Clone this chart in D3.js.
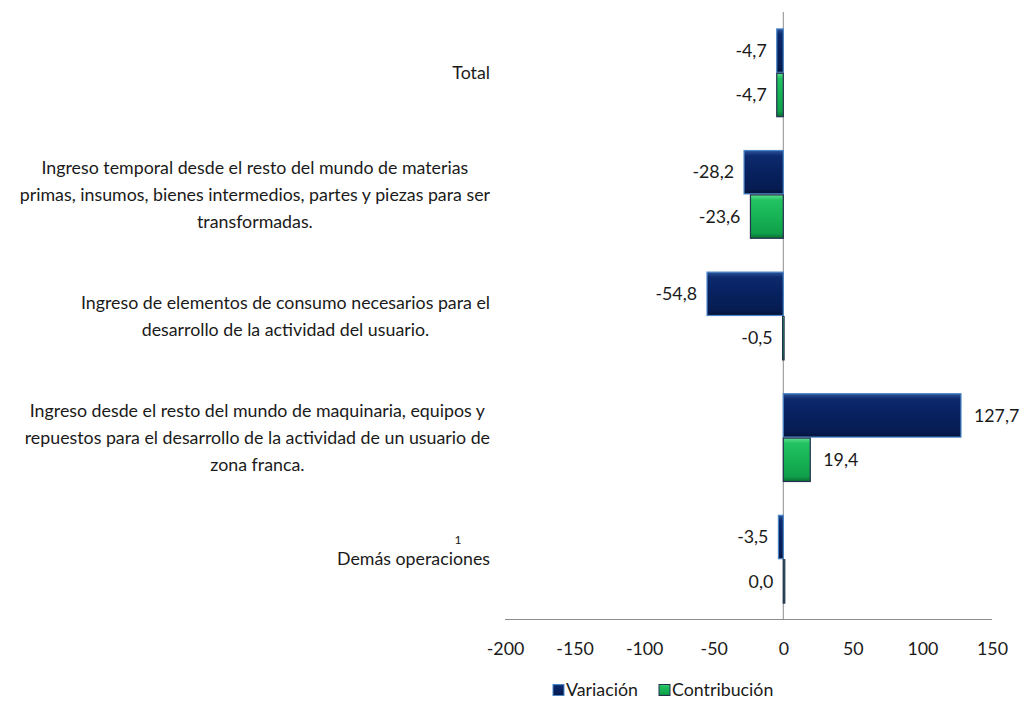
<!DOCTYPE html>
<html>
<head>
<meta charset="utf-8">
<script src="https://cdn.jsdelivr.net/npm/d3@7"></script>
<style>
  html, body { margin: 0; padding: 0; background: #fff; }
  svg { display: block; }
  text { font-family: Lato, "Open Sans", sans-serif; fill: #1a1a1a; }
</style>
</head>
<body>
<svg id="chart" width="1026" height="702"></svg>
<script>
// ---- data ----
const categories = [
  "Total",
  "Ingreso temporal desde el resto del mundo de materias primas, insumos, bienes intermedios, partes y piezas para ser transformadas.",
  "Ingreso de elementos de consumo necesarios para el desarrollo de la actividad del usuario.",
  "Ingreso desde el resto del mundo de maquinaria, equipos y repuestos para el desarrollo de la actividad de un usuario de zona franca.",
  "Demás operaciones"
];
const categoryLines = [
  ["Total"],
  ["Ingreso temporal desde el resto del mundo de materias",
   "primas, insumos, bienes intermedios, partes y piezas para ser",
   "transformadas."],
  ["Ingreso de elementos de consumo necesarios para el",
   "desarrollo de la actividad del usuario."],
  ["Ingreso desde el resto del mundo de maquinaria, equipos y",
   "repuestos para el desarrollo de la actividad de un usuario de",
   "zona franca."],
  ["Demás operaciones"]
];
const seriesNames = ["Variación", "Contribución"];
const variacion = [-4.7, -28.2, -54.8, 127.7, -3.5];
const contribucion = [-4.7, -23.6, -0.5, 19.4, 0.0];
const xTicks = [-200, -150, -100, -50, 0, 50, 100, 150];

// ---- layout ----
const FS = 17.8;
const svg = d3.select("#chart");
const x = d3.scaleLinear().domain([-200, 150]).range([505, 992]);
const y = d3.scaleBand().domain(categories).range([12, 620]).paddingInner(0.27).paddingOuter(0.135);
const ySub = d3.scaleBand().domain(seriesNames).range([0, y.bandwidth()]);

const defs = svg.append("defs");
function grad(id, stops) {
  const g = defs.append("linearGradient").attr("id", id)
    .attr("x1", 0).attr("y1", 0).attr("x2", 0).attr("y2", 1);
  stops.forEach(s => g.append("stop").attr("offset", s[0]).attr("stop-color", s[1]));
}
grad("gBlue", [[0, "#2d5399"], [0.12, "#0d2a6e"], [0.5, "#07215f"], [0.88, "#061c52"], [1, "#031238"]]);
grad("gGreen", [[0, "#5ee08f"], [0.12, "#22c262"], [0.5, "#17b355"], [0.88, "#10a04a"], [1, "#0a6e33"]]);

const styles = {
  "Variación": { fill: "url(#gBlue)", stroke: "#4a86c8" },
  "Contribución": { fill: "url(#gGreen)", stroke: "#23304e" }
};

const rows = categories.map((c, i) => ({
  cat: c, vals: [
    { s: "Variación", v: variacion[i] },
    { s: "Contribución", v: contribucion[i] }
  ]
}));

// vertical axis line
svg.append("line").attr("x1", x(0)).attr("x2", x(0)).attr("y1", 12).attr("y2", 620)
  .attr("stroke", "#8c8c8c").attr("stroke-width", 1);

const g = svg.selectAll("g.cat").data(rows).enter().append("g")
  .attr("transform", d => `translate(0,${y(d.cat)})`);

g.selectAll("rect").data(d => d.vals).enter().append("rect")
  .attr("x", d => Math.min(x(0), x(d.v)))
  .attr("width", d => Math.max(1.5, Math.abs(x(d.v) - x(0))))
  .attr("y", d => ySub(d.s) + 0.5)
  .attr("height", ySub.bandwidth() - 1)
  .attr("fill", d => styles[d.s].fill)
  .attr("stroke", d => styles[d.s].stroke)
  .attr("stroke-width", 1.2);

const fmt = v => v.toFixed(1).replace(".", ",");
g.selectAll("text.val").data(d => d.vals).enter().append("text")
  .attr("class", "val")
  .attr("x", d => d.v > 0 ? x(d.v) + 13 : Math.min(x(0), x(d.v)) - 10)
  .attr("y", d => ySub(d.s) + ySub.bandwidth() / 2)
  .attr("dy", "0.35em")
  .attr("text-anchor", d => d.v > 0 ? "start" : "end")
  .attr("font-size", FS)
  .text(d => fmt(d.v));

// horizontal axis
svg.append("line").attr("x1", x(-200)).attr("x2", x(150)).attr("y1", 619.5).attr("y2", 619.5)
  .attr("stroke", "#8c8c8c").attr("stroke-width", 1);
const xAxis = d3.axisBottom(x).tickValues(xTicks).tickSize(0).tickPadding(0).tickFormat(d => String(d));
const ax = svg.append("g").attr("transform", "translate(0,642)").call(xAxis);
ax.select(".domain").remove();
ax.selectAll("text").attr("font-size", FS).attr("font-family", "Lato, sans-serif").attr("fill", "#1a1a1a");

// category labels
const rightEdge = 490, lineH = 27;
categoryLines.forEach((lines, i) => {
  const cy = y(categories[i]) + y.bandwidth() / 2;
  const t = svg.append("text").attr("font-size", FS).attr("text-anchor", "middle");
  const widths = lines.map(l => {
    const tt = svg.append("text").attr("font-size", FS).text(l);
    const w = tt.node().getComputedTextLength(); tt.remove(); return w;
  });
  const maxW = d3.max(widths);
  const cx = rightEdge - maxW / 2;
  const y0 = cy - (lines.length - 1) * lineH / 2;
  lines.forEach((l, j) => {
    t.append("tspan").attr("x", cx).attr("y", y0 + j * lineH).attr("dy", "0.35em").text(l);
  });
  if (i === 4) {
    svg.append("text").attr("font-size", 12).attr("text-anchor", "middle")
      .attr("x", 458).attr("y", cy - 19).attr("dy", "0.35em").text("1");
  }
});

// legend
const legend = [
  { s: "Variación", x: 553, tx: 566 },
  { s: "Contribución", x: 659, tx: 672 }
];
const lg = svg.append("g");
legend.forEach(l => {
  lg.append("rect").attr("x", l.x).attr("y", 684.5).attr("width", 11).attr("height", 11)
    .attr("fill", styles[l.s].fill).attr("stroke", styles[l.s].stroke).attr("stroke-width", 1);
  lg.append("text").attr("x", l.tx).attr("y", 690).attr("dy", "0.35em").attr("font-size", FS).text(l.s);
});
</script>
</body>
</html>
